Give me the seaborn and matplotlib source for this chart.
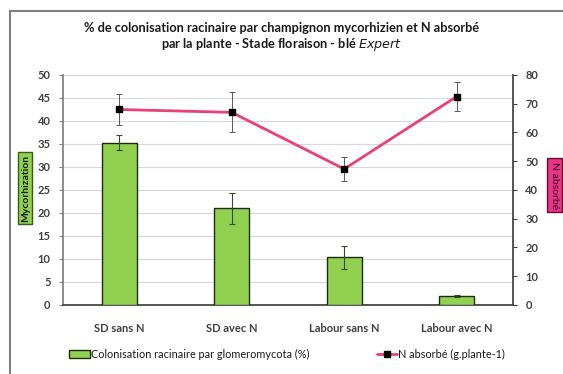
import matplotlib
matplotlib.use("Agg")
import matplotlib.pyplot as plt
import seaborn as sns
import pandas as pd
from matplotlib.patches import Rectangle, Patch
from matplotlib.lines import Line2D

# Treatments and measurements
categories = ["SD sans N", "SD avec N", "Labour sans N", "Labour avec N"]
colonisation = [35.3, 21.0, 10.4, 2.0]          # % root colonisation
colonisation_err = [1.7, 3.3, 2.5, 0.2]
n_absorbe = [68.0, 67.0, 47.3, 72.5]            # N absorbed (g.plante-1)
n_absorbe_err = [5.5, 7.0, 4.3, 5.0]

left_ticks = list(range(0, 55, 5))
right_ticks = list(range(0, 90, 10))

sns.set_theme(style="white")
plt.rcParams["font.family"] = ["Lato", "DejaVu Sans"]

GREEN = "#92D050"
PINK = "#E8407A"
TXT = "#404040"

fig = plt.figure(figsize=(5.63, 3.74), dpi=100)
ax = fig.add_axes([0.112, 0.1845, 0.799, 0.615])

df = pd.DataFrame({"cat": categories, "val": colonisation})
sns.barplot(data=df, x="cat", y="val", ax=ax, color=GREEN, width=0.31,
            edgecolor="#1b2a10", linewidth=1.0, saturation=1, zorder=3)
ax.errorbar(range(len(categories)), colonisation, yerr=colonisation_err,
            fmt="none", ecolor="#2f4f1a", elinewidth=0.8, capsize=2.5,
            capthick=0.8, zorder=4)

ax.set_ylim(0, 50)
ax.set_xlim(-0.5, len(categories) - 0.5)
ax.set_yticks(left_ticks)
ax.yaxis.grid(True, color="#D9D9D9", linewidth=0.8, zorder=0)
ax.set_axisbelow(True)
ax.set_xlabel("")
ax.set_ylabel("")
ax.spines["top"].set_visible(False)
ax.spines["right"].set_visible(False)
ax.spines["left"].set_color("#808080")
ax.spines["bottom"].set_color("#404040")
ax.tick_params(axis="y", which="both", left=True, length=3, width=0.8,
               color="#808080", labelsize=8, labelcolor=TXT, pad=6)
ax.tick_params(axis="x", bottom=False, labelsize=8, labelcolor=TXT, pad=7)
for lbl in ax.get_yticklabels() + ax.get_xticklabels():
    lbl.set_fontweight("bold")

ax2 = ax.twinx()
ax2.plot(range(len(categories)), n_absorbe, color=PINK, linewidth=2,
         marker="s", markersize=5, markerfacecolor="black",
         markeredgecolor="black", zorder=5)
ax2.errorbar(range(len(categories)), n_absorbe, yerr=n_absorbe_err,
             fmt="none", ecolor="#595959", elinewidth=0.7, capsize=2.5,
             capthick=0.7, zorder=4)
ax2.set_ylim(0, 80)
ax2.set_yticks(right_ticks)
for s in ["top", "left", "bottom"]:
    ax2.spines[s].set_visible(False)
ax2.spines["right"].set_color("#404040")
ax2.tick_params(axis="y", right=True, length=3, width=0.8, color="#404040",
                labelsize=8, labelcolor=TXT, pad=6)
for lbl in ax2.get_yticklabels():
    lbl.set_fontweight("bold")

# Chart title
fig.text(0.5, 0.925, "% de colonisation racinaire par champignon mycorhizien et N absorbé",
         ha="center", va="center", fontsize=9.2, fontweight="bold", color="#1a1a1a")
fig.text(0.5, 0.882, "par la plante - Stade floraison - blé $\\it{Expert}$",
         ha="center", va="center", fontsize=9.2, fontweight="bold", color="#1a1a1a")

# Axis titles in coloured boxes
fig.text(0.045, 0.497, "Mycorhization", rotation=90, ha="center", va="center",
         fontsize=7.5, fontweight="bold", color="#1a1a1a",
         bbox=dict(boxstyle="square,pad=0.25", facecolor=GREEN,
                   edgecolor="#2f5f10", linewidth=1.0))
fig.text(0.985, 0.505, "N absorbé", rotation=-90, ha="center", va="center",
         fontsize=7.5, color="#1a1a1a",
         bbox=dict(boxstyle="square,pad=0.3", facecolor="#F0308A",
                   edgecolor="#5a1030", linewidth=1.0))

# Legend
handles = [Patch(facecolor=GREEN, edgecolor="#1b2a10", linewidth=1.0),
           Line2D([0], [0], color=PINK, linewidth=2, marker="s", markersize=4,
                  markerfacecolor="black", markeredgecolor="black")]
labels = ["Colonisation racinaire par glomeromycota (%)", "N absorbé (g.plante-1)"]
leg = fig.legend(handles, labels, loc="center", bbox_to_anchor=(0.51, 0.053),
                 ncol=2, frameon=False, fontsize=7.8, handlelength=1.9,
                 handletextpad=0.1, columnspacing=6.2)
for t in leg.get_texts():
    t.set_color("#1a1a1a")

# Outer chart border
fig.patches.append(Rectangle((10 / 563, -0.05), 1.2, 1 - 11 / 374 + 0.05,
                             transform=fig.transFigure, fill=False,
                             edgecolor="#7f7f7f", linewidth=1.5))

fig.savefig("out.png", dpi=100, facecolor="white")
